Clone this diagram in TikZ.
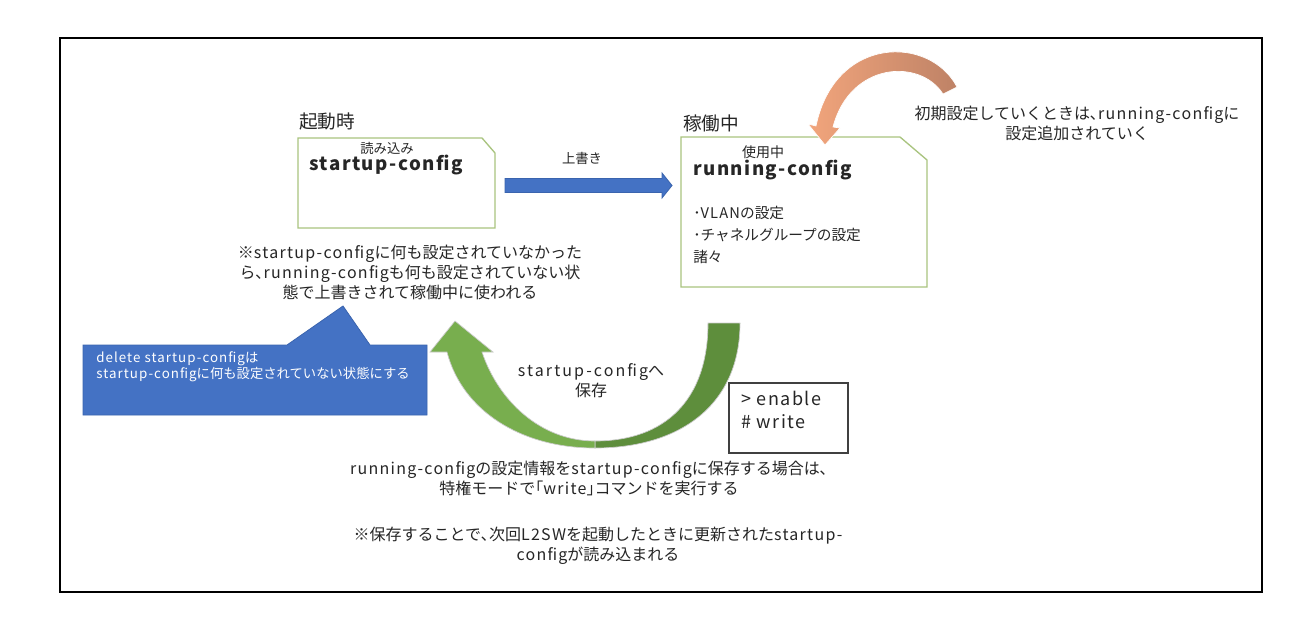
\documentclass[tikz,border=0pt]{standalone}
\usepackage{fontspec}
\setmainfont{Noto Sans CJK JP}
\newcommand\ls[1]{{\addfontfeature{LetterSpace=8}#1}}
\newcommand\lsw[1]{{\addfontfeature{LetterSpace=13}#1}}
\definecolor{boxgreen}{HTML}{A9C47F}
\definecolor{arrowblue}{HTML}{4472C4}
\definecolor{arrowblueline}{HTML}{3A64AE}
\definecolor{gdark}{HTML}{5E8E3C}
\definecolor{glight}{HTML}{78AE4E}
\definecolor{otail}{HTML}{BE8266}
\definecolor{ohead}{HTML}{F2A57C}
\definecolor{txt}{HTML}{262626}
\tikzset{
  fs/.style={font=\fontsize{#1}{\dimexpr #1pt*5/4\relax}\selectfont},
  lbl/.style={inner sep=0pt, text=txt},
  note/.style={lbl, fs=12, align=center},
  cfgbox/.style={draw=boxgreen, line width=1pt, fill=white},
  boldcfg/.style={lbl, font=\bfseries\fontsize{14}{17}\selectfont, anchor=west},
}
\begin{document}
\begin{tikzpicture}[x=0.75pt,y=-0.75pt]
\useasboundingbox (0,0) rectangle (1310,628);
\fill[white] (0,0) rectangle (1310,628);
\draw[black, line width=0.8pt] (60,38) rectangle (1262,592);

% startup-config box
\draw[cfgbox] (298,138) -- (482,138) -- (495,153) -- (495,228) -- (298,228) -- cycle;
\node[lbl, fs=14, anchor=west] (kidou) at (299,121) {起動時};
\node[lbl, fs=10] (yomi) at (387,148) {読み込み};
\node[boldcfg] (startup) at (309,165) {\ls{startup-config}};

% blue arrow
\fill[arrowblue, draw=arrowblueline, line width=0.6pt]
  (505,178.5) -- (662,178.5) -- (662,173) -- (672,185.5) -- (662,198) -- (662,192.5) -- (505,192.5) -- cycle;
\node[lbl, fs=10] (uwagaki) at (582,158) {上書き};

% running-config box
\draw[cfgbox] (681,137) -- (900,137) -- (927,160) -- (927,287) -- (681,287) -- cycle;
\node[lbl, fs=14, anchor=west] (kadou) at (683,123) {稼働中};
\node[lbl, fs=10.5] (shiyou) at (763,152) {使用中};
\node[boldcfg] (running) at (693,170) {\ls{running-config}};
\node[lbl, fs=11, anchor=west] (vlan) at (693,213) {･\ls{VLAN}の設定};
\node[lbl, fs=11, anchor=west] (chan) at (693,235) {･チャネルグループの設定};
\node[lbl, fs=11, anchor=west] (moro) at (693,257) {諸々};

% orange curved arrow
\shade[left color=ohead, right color=otail, draw=white, line width=0.5pt]
  (957,87) .. controls (930,35) and (835,35) .. (816,126)
  -- (808,124) -- (825,145) -- (840,128) -- (833,127)
  .. controls (850,62) and (920,58) .. (943,94) -- cycle;
\node[note] (shoki) at (1077,123) {初期設定していくときは､\ls{running-config}に\\設定追加されていく};

% note below startup box
\node[note] (nothing) at (410,272) {※\ls{startup-config}に何も設定されていなかった\\ら､\ls{running-config}も何も設定されていない状\\態で上書きされて稼働中に使われる};

% blue callout
\filldraw[fill=arrowblue, draw=arrowblueline, line width=0.6pt]
  (83,345) -- (287,345) -- (343,306) -- (370,345) -- (427,345) -- (427,415) -- (83,415) -- cycle;
\node[lbl, fs=10, text=white, anchor=north west, align=left] (delete) at (96,351) {\ls{delete startup-config}は\\\ls{startup-config}に何も設定されていない状態にする};

% green curved arrow
\filldraw[fill=gdark, draw=white!80!black, line width=0.5pt]
  (708,323) -- (740,323) .. controls (740,405) and (680,448) .. (595,448)
  -- (595,441) .. controls (665,441) and (708,400) .. (708,323) -- cycle;
\filldraw[fill=glight, draw=white!80!black, line width=0.5pt]
  (595,448) .. controls (520,448) and (462,410) .. (447,352)
  -- (430,352) -- (455,321) -- (493,352) -- (482,352)
  .. controls (498,400) and (540,441) .. (595,441) -- cycle;
\node[note] (hozon) at (591,381) {\lsw{startup-config}へ\\保存};

% command box
\draw[black!75, line width=1pt] (729,383) rectangle (848,453);
\node[lbl, fs=13.5, anchor=north west, align=left] (cmd) at (741,391) {\ls{> enable}\\\ls{\# write}};

% bottom notes
\node[note] (save1) at (589,478) {\ls{running-config}の設定情報を\ls{startup-config}に保存する場合は､\\特権モードで｢\ls{write}｣コマンドを実行する};
\node[note] (save2) at (598,546) {※保存することで､次回\ls{L2SW}を起動したときに更新された\ls{startup-}\\\ls{config}が読み込まれる};
\end{tikzpicture}
\end{document}
